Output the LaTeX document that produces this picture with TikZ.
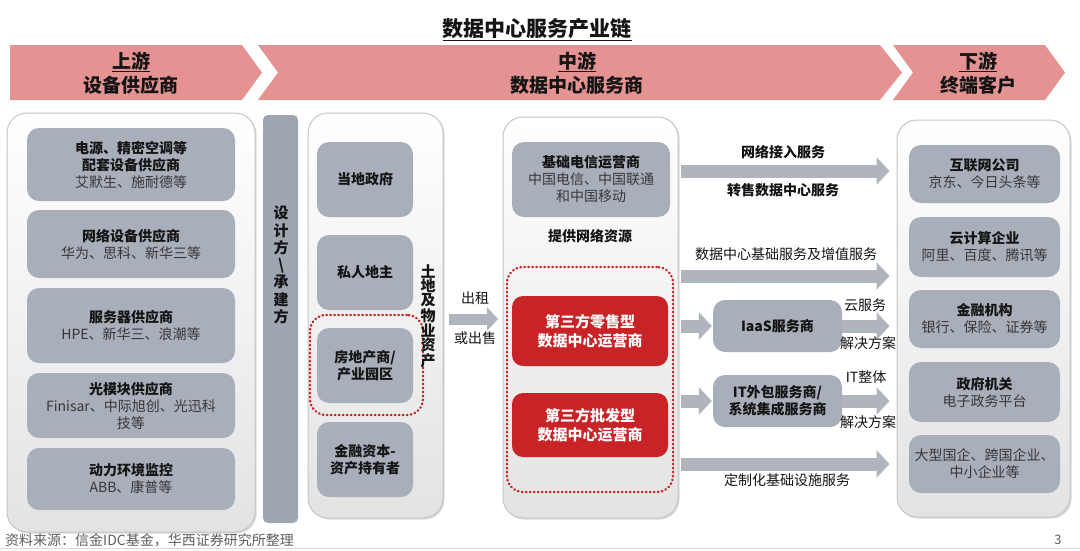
\documentclass[tikz,border=0pt]{standalone}
\usepackage{fontspec}
\setmainfont{Noto Sans CJK SC}
\usetikzlibrary{arrows.meta,shadows,calc}
\definecolor{bannerpink}{RGB}{228,146,146}
\definecolor{boxgray}{RGB}{168,175,187}
\definecolor{bargray}{RGB}{158,166,178}
\definecolor{arrowgray}{RGB}{176,181,189}
\definecolor{darkred}{RGB}{200,36,40}
\definecolor{txt}{RGB}{20,20,20}
\definecolor{subtxt}{RGB}{55,55,55}
\definecolor{srcgray}{RGB}{95,95,95}
\newcommand{\B}[1]{\textbf{#1}}
\newcommand{\Sub}[1]{{\color{subtxt}#1}}
\tikzset{
  outerbox/.style={draw=gray!45, line width=1pt, rounded corners=20pt, top color=white, bottom color=gray!22,
    drop shadow={opacity=0.3, shadow xshift=1.5pt, shadow yshift=-1.5pt}},
  ibox/.style={fill=boxgray, rounded corners=12pt, align=center, inner sep=0pt, text=txt,
    font=\fontsize{14}{17}\selectfont},
  redbox/.style={fill=darkred, rounded corners=11pt, align=center, inner sep=0pt, text=white,
    font=\bfseries\fontsize{15}{19}\selectfont},
  dotbox/.style={draw=darkred, line width=2.4pt, dash pattern=on 0.6pt off 3.4pt, line cap=round, rounded corners=16pt},
  fatarrow/.style={draw=arrowgray, line width=13pt, line cap=butt, -{Triangle[length=13pt,width=27pt]}},
  landarrow/.style={draw=arrowgray, line width=11pt, line cap=butt, -{Triangle[length=11pt,width=23pt]}},
  lbl/.style={font=\fontsize{14}{16}\selectfont, text=txt, inner sep=0pt},
  blbl/.style={font=\bfseries\fontsize{14}{16}\selectfont, text=txt, inner sep=0pt},
  bannertxt/.style={font=\bfseries\fontsize{19}{22}\selectfont, text=txt, inner sep=0pt},
}
\begin{document}
\begin{tikzpicture}[x=1pt,y=-1pt]
\useasboundingbox (0,0) rectangle (1080,550);
\fill[white] (0,0) rectangle (1080,550);

% title
\node[font=\bfseries\fontsize{21}{24}\selectfont, text=txt] (title) at (537,30) {\underline{数据中心服务产业链}};

% banner
\fill[bannerpink] (10,45) -- (242,45) -- (262,72.5) -- (242,100) -- (10,100) -- cycle;
\fill[bannerpink] (258,45) -- (880,45) -- (902,72.5) -- (880,100) -- (258,100) -- (278,72.5) -- cycle;
\fill[bannerpink] (893,45) -- (1045,45) -- (1065,72.5) -- (1045,100) -- (893,100) -- (913,72.5) -- cycle;
\node[bannertxt] (up1) at (131,62) {\underline{上游}};
\node[bannertxt] (up2) at (131,85) {设备供应商};
\node[bannertxt] (mid1) at (577,62) {\underline{中游}};
\node[bannertxt] (mid2) at (577,85) {数据中心服务商};
\node[bannertxt] (dn1) at (978,62) {\underline{下游}};
\node[bannertxt] (dn2) at (978,85) {终端客户};

% upstream
\node[outerbox, minimum width=248pt, minimum height=419pt] (upbox) at (131,322.5) {};
\node[ibox, minimum width=208pt, minimum height=73pt] (u1) at (131,164.5) {\B{电源、精密空调等}\\\B{配套设备供应商}\\\Sub{艾默生、施耐德等}};
\node[ibox, minimum width=208pt, minimum height=68pt] (u2) at (131,244) {\B{网络设备供应商}\\\Sub{华为、思科、新华三等}};
\node[ibox, minimum width=208pt, minimum height=75pt] (u3) at (131,325.5) {\B{服务器供应商}\\\Sub{HPE、新华三、浪潮等}};
\node[ibox, minimum width=208pt, minimum height=65pt] (u4) at (131,405.5) {\B{光模块供应商}\\\Sub{Finisar、中际旭创、光迅科}\\\Sub{技等}};
\node[ibox, minimum width=208pt, minimum height=62pt] (u5) at (131,479) {\B{动力环境监控}\\\Sub{ABB、康普等}};

% design bar
\node[fill=bargray, rounded corners=5pt, minimum width=35pt, minimum height=408pt, inner sep=0pt] (bar) at (280.5,319) {};
\node[font=\bfseries\fontsize{15}{17.3}\selectfont, text=txt, align=center, inner sep=0pt] (bartxt) at (281,265) {设\\计\\方\\\textbackslash\\承\\建\\方};

% land owners
\node[outerbox, minimum width=135pt, minimum height=405pt] (landbox) at (375.5,315.5) {};
\node[ibox, minimum width=96pt, minimum height=75pt] (l1) at (365,179.5) {\B{当地政府}};
\node[ibox, minimum width=96pt, minimum height=75pt] (l2) at (365,272.5) {\B{私人地主}};
\node[ibox, minimum width=96pt, minimum height=75pt] (l3) at (365,365.5) {\B{房地产商/}\\\B{产业园区}};
\node[ibox, minimum width=96pt, minimum height=75pt] (l4) at (365,459.5) {\B{金融资本-}\\\B{资产持有者}};
\node[dotbox, minimum width=113pt, minimum height=100pt, inner sep=0pt] (ldot) at (366.5,365) {};
\node[font=\bfseries\fontsize{15}{12.2}\selectfont, text=txt, align=center, inner sep=0pt] (landtxt) at (428,316) {土\\地\\及\\物\\业\\资\\产};

% land arrow
\draw[landarrow, shorten <=5pt, shorten >=5pt] (landbox.east |- 0,319) -- (0,319 -| 503,0);
\node[lbl] (rent) at (475,298) {出租};
\node[lbl] (sell) at (475,338) {或出售};

% midstream operators
\node[outerbox, minimum width=175pt, minimum height=401pt] (midbox) at (590.5,317.5) {};
\node[ibox, minimum width=158pt, minimum height=75pt] (telco) at (591,179.5) {\B{基础电信运营商}\\\Sub{中国电信、中国联通}\\\Sub{和中国移动}};
\node[blbl] (netres) at (590,236) {提供网络资源};
\node[dotbox, minimum width=166pt, minimum height=225pt, inner sep=0pt] (mdot) at (590,379.5) {};
\node[redbox, minimum width=156pt, minimum height=70pt] (retail) at (590,331) {第三方零售型\\数据中心运营商};
\node[redbox, minimum width=156pt, minimum height=64pt] (whole) at (590,425) {第三方批发型\\数据中心运营商};

% service providers
\node[ibox, minimum width=129pt, minimum height=52pt, font=\bfseries\fontsize{14}{17}\selectfont] (iaas) at (777.5,326) {IaaS服务商};
\node[ibox, minimum width=129pt, minimum height=52pt, font=\bfseries\fontsize{14}{17}\selectfont] (itsp) at (777.5,401) {IT外包服务商/\\系统集成服务商};

% downstream
\node[outerbox, minimum width=173pt, minimum height=397pt] (custbox) at (983.5,318.5) {};
\node[ibox, minimum width=151pt, minimum height=58pt] (c1) at (984.5,174) {\B{互联网公司}\\\Sub{京东、今日头条等}};
\node[ibox, minimum width=151pt, minimum height=60pt] (c2) at (984.5,247) {\B{云计算企业}\\\Sub{阿里、百度、腾讯等}};
\node[ibox, minimum width=151pt, minimum height=58pt] (c3) at (984.5,319) {\B{金融机构}\\\Sub{银行、保险、证券等}};
\node[ibox, minimum width=151pt, minimum height=60pt] (c4) at (984.5,392) {\B{政府机关}\\\Sub{电子政务平台}};
\node[ibox, minimum width=151pt, minimum height=58pt] (c5) at (984.5,464) {\Sub{大型国企、跨国企业、}\\\Sub{中小企业等}};

% arrows midstream -> downstream
\draw[fatarrow, shorten <=2pt, shorten >=7pt] (midbox.east |- 0,171) -- (custbox.west |- 0,171);
\draw[fatarrow, shorten <=2pt, shorten >=7pt] (midbox.east |- 0,276) -- (custbox.west |- 0,276);
\draw[fatarrow, shorten <=2pt, shorten >=1pt] (midbox.east |- iaas) -- (iaas.west);
\draw[fatarrow, shorten <=2pt, shorten >=1pt] (midbox.east |- itsp) -- (itsp.west);
\draw[fatarrow, shorten >=7pt] (iaas.east) -- (custbox.west |- iaas);
\draw[fatarrow, shorten >=7pt] (itsp.east) -- (custbox.west |- itsp);
\draw[fatarrow, shorten <=2pt, shorten >=7pt] (midbox.east |- 0,464) -- (custbox.west |- 0,464);

% arrow labels
\node[blbl] (a1t) at (783,152) {网络接入服务};
\node[blbl] (a1b) at (783,190) {转售数据中心服务};
\node[lbl] (a2t) at (786,254) {数据中心基础服务及增值服务};
\node[lbl] (a3t) at (865,305) {云服务};
\node[lbl] (a3b) at (868,343) {解决方案};
\node[lbl] (a4t) at (866,377) {IT整体};
\node[lbl] (a4b) at (868,422) {解决方案};
\node[lbl] (a5b) at (787,480) {定制化基础设施服务};

% footer
\node[anchor=west, font=\fontsize{14}{15}\selectfont, text=srcgray, inner sep=0pt] (src) at (5,540) {资料来源：信金IDC基金，华西证券研究所整理};
\node[font=\fontsize{13}{15}\selectfont, text=srcgray, inner sep=0pt] (pg) at (1058,540) {3};
\draw[gray!30, line width=0.8pt] (0,548.5) -- (1080,548.5);
\end{tikzpicture}
\end{document}
